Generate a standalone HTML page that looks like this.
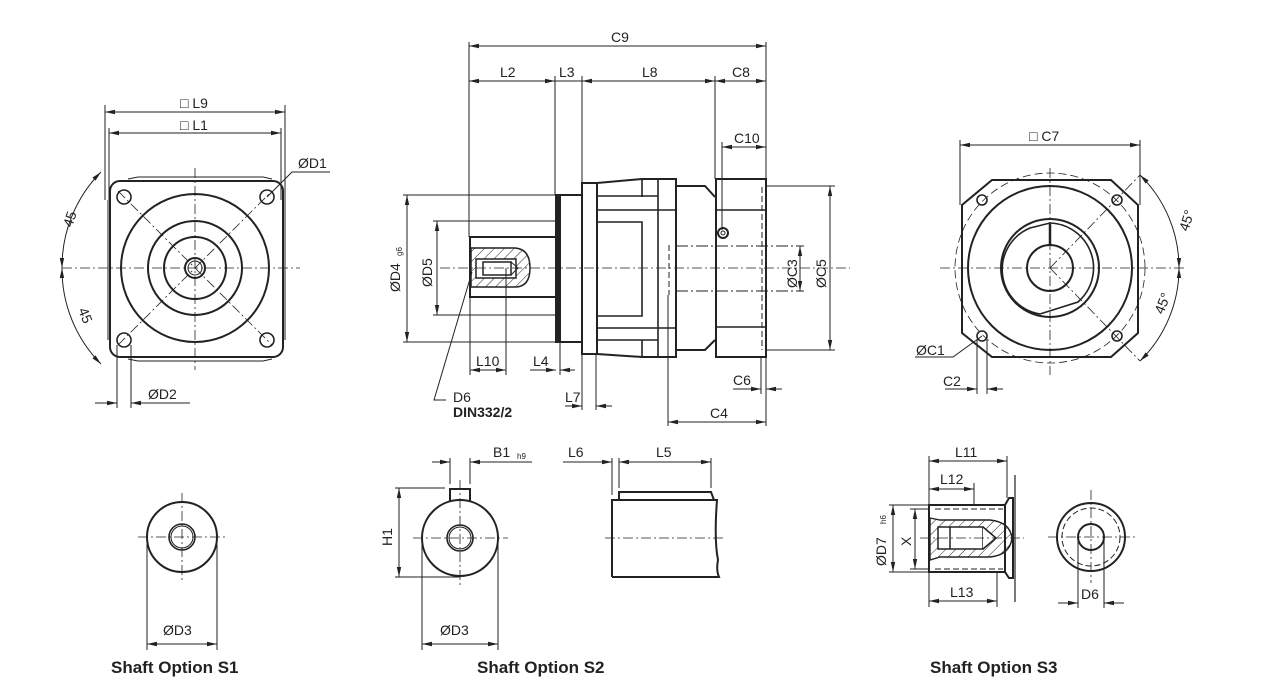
<!DOCTYPE html>
<html><head><meta charset="utf-8"><style>
html,body{margin:0;padding:0;background:#fff;}
svg{display:block;}
text{font-family:"Liberation Sans",Arial,sans-serif;fill:#222;}
</style></head><body>
<svg width="1278" height="691" viewBox="0 0 1278 691" xmlns="http://www.w3.org/2000/svg">
<defs>
<marker id="a" viewBox="0 0 10 6" refX="10" refY="3" markerWidth="10" markerHeight="6" orient="auto-start-reverse" markerUnits="userSpaceOnUse"><path d="M0,0.8 L10,3 L0,5.2 z" fill="#222"/></marker>
<pattern id="h" width="7" height="7" patternUnits="userSpaceOnUse" patternTransform="rotate(45)"><line x1="0" y1="0" x2="0" y2="7" stroke="#222" stroke-width="1"/></pattern>
</defs>
<g stroke="#222" fill="none" stroke-width="1">
<!-- LEFT VIEW -->
<g stroke-width="2">
<rect x="110" y="181" width="173" height="176" rx="10"/>
<circle cx="195" cy="268" r="74"/>
<circle cx="195" cy="268" r="47"/>
<circle cx="195" cy="268" r="31"/>
<circle cx="195" cy="268" r="10"/>
</g>
<circle cx="195" cy="268" r="7"/>
<path d="M128 179 L138 177 H263 L272 179 M128 359 L138 361 H263 L272 359" />
<path d="M108 200 V340 M285 200 V340" />
<g stroke-width="1.6"><circle cx="124" cy="197" r="7"/><circle cx="267" cy="197" r="7"/><circle cx="124" cy="340" r="7"/><circle cx="267" cy="340" r="7"/></g>
<g stroke-dasharray="10,3,2,3" stroke-width="0.8">
<line x1="62" y1="268" x2="300" y2="268"/><line x1="195" y1="168" x2="195" y2="370"/>
<line x1="118" y1="191" x2="272" y2="345"/><line x1="118" y1="345" x2="272" y2="191"/>
</g>
<line x1="105" y1="105" x2="105" y2="200"/><line x1="285" y1="105" x2="285" y2="200"/>
<line x1="109" y1="128" x2="109" y2="200"/><line x1="281" y1="128" x2="281" y2="200"/>
<line x1="105" y1="112" x2="285" y2="112" marker-start="url(#a)" marker-end="url(#a)"/>
<line x1="109" y1="133" x2="281" y2="133" marker-start="url(#a)" marker-end="url(#a)"/>
<path d="M267 197 L292 172 H330"/>
<path d="M101 172 A135 135 0 0 0 62 268" marker-start="url(#a)" marker-end="url(#a)"/>
<path d="M62 268 A135 135 0 0 0 101 364" marker-start="url(#a)" marker-end="url(#a)"/>
<line x1="117" y1="345" x2="117" y2="408"/><line x1="131" y1="345" x2="131" y2="408"/>
<line x1="95" y1="403" x2="117" y2="403" marker-end="url(#a)"/><line x1="155" y1="403" x2="131" y2="403" marker-end="url(#a)"/><line x1="131" y1="403" x2="190" y2="403"/>

<!-- MIDDLE VIEW -->
<g stroke-width="2">
<rect x="470" y="237" width="86" height="60"/>
<rect x="556" y="195" width="4" height="147" fill="#222"/>
<rect x="560" y="195" width="22" height="147"/>
<rect x="582" y="183" width="15" height="171"/>
<path d="M597 183 L642 179 H676 V357 H642 L597 354"/>
<path d="M676 186 H705 L715 197 M676 350 H705 L715 340"/>
<rect x="716" y="179" width="50" height="178"/>
</g>
<g stroke-width="1.6">
<path d="M597 196 H658 M597 210 H676 M597 222 H642 V316 H597 M597 328 H676 M597 340 H658 M642 179 V197 M658 179 V357 M642 340 V357"/>
<path d="M716 210 H766 M716 327 H766"/>
<line x1="597" y1="183" x2="597" y2="354"/>
</g>
<line x1="762" y1="187" x2="762" y2="350" stroke-dasharray="6,3"/>
<line x1="669" y1="245" x2="669" y2="295" stroke-dasharray="6,3"/>
<path d="M676 246 H800 M676 291 H800" stroke-dasharray="12,3,2,3"/>
<circle cx="723" cy="233" r="5" stroke-width="2"/><circle cx="723" cy="233" r="2"/>
<path d="M471 248 H515 Q530 249 530 268 Q530 287 515 287 H471 Z" fill="url(#h)" stroke-width="1.5"/>
<rect x="476" y="259" width="40" height="19" fill="#fff" stroke-width="1.5"/>
<rect x="483" y="262" width="28" height="13" fill="#fff" stroke-width="1.5"/>
<path d="M511 262 L518 268 L511 275"/>
<line x1="440" y1="268" x2="850" y2="268" stroke-dasharray="10,3,2,3" stroke-width="0.8"/>
<line x1="469" y1="42" x2="469" y2="237"/><line x1="766" y1="42" x2="766" y2="179"/>
<line x1="469" y1="46" x2="766" y2="46" marker-start="url(#a)" marker-end="url(#a)"/>
<line x1="555" y1="76" x2="555" y2="195"/><line x1="582" y1="76" x2="582" y2="183"/><line x1="715" y1="76" x2="715" y2="179"/>
<line x1="469" y1="81" x2="555" y2="81" marker-start="url(#a)" marker-end="url(#a)"/>
<line x1="555" y1="81" x2="582" y2="81"/>
<line x1="582" y1="81" x2="715" y2="81" marker-start="url(#a)" marker-end="url(#a)"/>
<line x1="715" y1="81" x2="766" y2="81" marker-start="url(#a)" marker-end="url(#a)"/>
<line x1="722" y1="142" x2="722" y2="230"/>
<line x1="722" y1="147" x2="766" y2="147" marker-start="url(#a)" marker-end="url(#a)"/>
<line x1="403" y1="195" x2="556" y2="195"/><line x1="403" y1="342" x2="556" y2="342"/>
<line x1="407" y1="195" x2="407" y2="342" marker-start="url(#a)" marker-end="url(#a)"/>
<line x1="433" y1="221" x2="556" y2="221"/><line x1="433" y1="315" x2="556" y2="315"/>
<line x1="437" y1="221" x2="437" y2="315" marker-start="url(#a)" marker-end="url(#a)"/>
<line x1="766" y1="186" x2="835" y2="186"/><line x1="766" y1="350" x2="835" y2="350"/>
<line x1="830" y1="186" x2="830" y2="350" marker-start="url(#a)" marker-end="url(#a)"/>
<line x1="800" y1="246" x2="804" y2="246"/><line x1="800" y1="291" x2="804" y2="291"/>
<line x1="800" y1="246" x2="800" y2="291" marker-start="url(#a)" marker-end="url(#a)"/>
<line x1="506" y1="268" x2="506" y2="375"/><line x1="470" y1="297" x2="470" y2="375"/>
<line x1="470" y1="370" x2="506" y2="370" marker-start="url(#a)" marker-end="url(#a)"/>
<line x1="560" y1="342" x2="560" y2="375"/>
<line x1="530" y1="370" x2="556" y2="370" marker-end="url(#a)"/><line x1="575" y1="370" x2="560" y2="370" marker-end="url(#a)"/>
<line x1="596" y1="354" x2="596" y2="410"/><line x1="582" y1="354" x2="582" y2="410"/>
<line x1="565" y1="406" x2="582" y2="406" marker-end="url(#a)"/><line x1="612" y1="406" x2="596" y2="406" marker-end="url(#a)"/>
<line x1="668" y1="295" x2="668" y2="426"/>
<line x1="766" y1="357" x2="766" y2="426"/><line x1="761" y1="357" x2="761" y2="394"/>
<line x1="668" y1="422" x2="766" y2="422" marker-start="url(#a)" marker-end="url(#a)"/>
<line x1="733" y1="389" x2="761" y2="389" marker-end="url(#a)"/><line x1="782" y1="389" x2="766" y2="389" marker-end="url(#a)"/>
<path d="M472 272 L434 400 H446"/>

<!-- RIGHT VIEW -->
<g stroke-width="2">
<path d="M992 180 H1111 L1138 205 V333 L1111 357 H992 L962 333 V205 Z"/>
<circle cx="1050" cy="268" r="82"/>
<circle cx="1050" cy="268" r="23"/>
<circle cx="1050" cy="268" r="49"/>
</g>
<path d="M1040 314 L1078 302 A45 45 0 0 0 1050 223 L1030 228 A45 45 0 0 0 1040 314" stroke-width="1.6"/>
<path d="M1050 224 V245" stroke-width="2.5"/>
<circle cx="1050" cy="268" r="95" stroke-dasharray="8,4" stroke-width="0.8"/>
<g stroke-width="1.6"><circle cx="982" cy="200" r="5"/><circle cx="1117" cy="200" r="5"/><circle cx="982" cy="336" r="5"/><circle cx="1117" cy="336" r="5"/></g>
<g stroke-dasharray="10,3,2,3" stroke-width="0.8">
<line x1="940" y1="268" x2="1185" y2="268"/><line x1="1050" y1="168" x2="1050" y2="375"/>
<line x1="1050" y1="268" x2="1140" y2="175"/><line x1="1050" y1="268" x2="1140" y2="361"/>
</g>
<line x1="960" y1="140" x2="960" y2="205"/><line x1="1140" y1="140" x2="1140" y2="205"/>
<line x1="960" y1="145" x2="1140" y2="145" marker-start="url(#a)" marker-end="url(#a)"/>
<path d="M1140 175 A130 130 0 0 1 1179 268" marker-start="url(#a)" marker-end="url(#a)"/>
<path d="M1179 268 A130 130 0 0 1 1140 361" marker-start="url(#a)" marker-end="url(#a)"/>
<path d="M982 336 L953 357 H915"/>
<line x1="977" y1="340" x2="977" y2="394"/><line x1="987" y1="340" x2="987" y2="394"/>
<line x1="945" y1="389" x2="977" y2="389" marker-end="url(#a)"/><line x1="1003" y1="389" x2="987" y2="389" marker-end="url(#a)"/>

<!-- S1 -->
<circle cx="182" cy="537" r="35" stroke-width="2"/>
<circle cx="182" cy="537" r="13" stroke-width="1.6"/><circle cx="182" cy="537" r="11"/>
<g stroke-dasharray="10,3,2,3" stroke-width="0.8"><line x1="138" y1="537" x2="228" y2="537"/><line x1="182" y1="493" x2="182" y2="582"/></g>
<line x1="147" y1="537" x2="147" y2="650"/><line x1="217" y1="537" x2="217" y2="650"/>
<line x1="147" y1="644" x2="217" y2="644" marker-start="url(#a)" marker-end="url(#a)"/>

<!-- S2 -->
<circle cx="460" cy="538" r="38" stroke-width="2"/>
<circle cx="460" cy="538" r="13" stroke-width="1.6"/><circle cx="460" cy="538" r="11"/>
<path d="M450 501 V489 H470 V501" stroke-width="2"/>
<g stroke-dasharray="10,3,2,3" stroke-width="0.8"><line x1="413" y1="538" x2="508" y2="538"/><line x1="460" y1="480" x2="460" y2="585"/></g>
<line x1="450" y1="458" x2="450" y2="484"/><line x1="470" y1="458" x2="470" y2="484"/>
<line x1="432" y1="462" x2="450" y2="462" marker-end="url(#a)"/><line x1="532" y1="462" x2="470" y2="462" marker-end="url(#a)"/>
<line x1="395" y1="488" x2="445" y2="488"/><line x1="395" y1="577" x2="460" y2="577"/>
<line x1="399" y1="488" x2="399" y2="577" marker-start="url(#a)" marker-end="url(#a)"/>
<line x1="422" y1="538" x2="422" y2="650"/><line x1="498" y1="538" x2="498" y2="650"/>
<line x1="422" y1="644" x2="498" y2="644" marker-start="url(#a)" marker-end="url(#a)"/>
<path d="M612 577 V500 H717 Q714 540 718 560 Q716 570 719 577 H612" stroke-width="2"/>
<path d="M619 500 V492 H711 L714 500" stroke-width="2"/>
<line x1="605" y1="538" x2="725" y2="538" stroke-dasharray="10,3,2,3" stroke-width="0.8"/>
<line x1="612" y1="458" x2="612" y2="495"/><line x1="619" y1="458" x2="619" y2="488"/><line x1="711" y1="458" x2="711" y2="488"/>
<line x1="563" y1="462" x2="612" y2="462" marker-end="url(#a)"/>
<line x1="619" y1="462" x2="711" y2="462" marker-start="url(#a)" marker-end="url(#a)"/>

<!-- S3 -->
<g stroke-width="2">
<path d="M929 505 H1005 V572 H929 Z"/>
<path d="M1005 505 L1009 498 H1013 V578 H1009 L1005 572"/>
</g>
<line x1="1015" y1="475" x2="1015" y2="602" stroke-width="1.2"/>
<path d="M930 518 L940 520 H990 Q1010 522 1012 538 Q1010 555 990 557 H940 L930 560 Z" fill="url(#h)" stroke-width="1.4"/>
<rect x="938" y="527" width="45" height="22" fill="#fff" stroke-width="1.5"/>
<line x1="950" y1="527" x2="950" y2="549" stroke-width="1.5"/>
<path d="M983 527 L996 538 L983 549" fill="#fff" stroke-width="1.5"/>
<path d="M935 509 H1003 M935 569 H1003" stroke-dasharray="6,3"/>
<line x1="920" y1="538" x2="1024" y2="538" stroke-dasharray="10,3,2,3" stroke-width="0.8"/>
<line x1="929" y1="456" x2="929" y2="607"/><line x1="1007" y1="456" x2="1007" y2="498"/><line x1="974" y1="483" x2="974" y2="505"/><line x1="997" y1="572" x2="997" y2="607"/>
<line x1="929" y1="461" x2="1007" y2="461" marker-start="url(#a)" marker-end="url(#a)"/>
<line x1="929" y1="489" x2="974" y2="489" marker-start="url(#a)" marker-end="url(#a)"/>
<line x1="929" y1="601" x2="997" y2="601" marker-start="url(#a)" marker-end="url(#a)"/>
<line x1="889" y1="505" x2="929" y2="505"/><line x1="889" y1="572" x2="929" y2="572"/>
<line x1="893" y1="505" x2="893" y2="572" marker-start="url(#a)" marker-end="url(#a)"/>
<line x1="910" y1="509" x2="930" y2="509"/><line x1="910" y1="569" x2="930" y2="569"/>
<line x1="915" y1="509" x2="915" y2="569" marker-start="url(#a)" marker-end="url(#a)"/>
<circle cx="1091" cy="537" r="34" stroke-width="2"/>
<circle cx="1091" cy="537" r="29" stroke-dasharray="6,3"/>
<circle cx="1091" cy="537" r="13" stroke-width="2"/>
<g stroke-dasharray="10,3,2,3" stroke-width="0.8"><line x1="1048" y1="537" x2="1135" y2="537"/><line x1="1091" y1="490" x2="1091" y2="583"/></g>
<line x1="1078" y1="537" x2="1078" y2="608"/><line x1="1104" y1="537" x2="1104" y2="608"/>
<line x1="1058" y1="603" x2="1078" y2="603" marker-end="url(#a)"/><line x1="1124" y1="603" x2="1104" y2="603" marker-end="url(#a)"/>
</g>

<g font-size="14">
<text x="180" y="108">□ L9</text>
<text x="180" y="130">□ L1</text>
<text x="298" y="168">ØD1</text>
<text x="148" y="399">ØD2</text>
<text x="72" y="228" transform="rotate(-72 72 228)">45</text>
<text x="78" y="310" transform="rotate(68 78 310)">45</text>
<text x="611" y="42">C9</text>
<text x="500" y="77">L2</text>
<text x="559" y="77">L3</text>
<text x="642" y="77">L8</text>
<text x="732" y="77">C8</text>
<text x="734" y="143">C10</text>
<text x="400" y="292" transform="rotate(-90 400 292)">ØD4</text>
<text x="402" y="256" font-size="8" transform="rotate(-90 402 256)">g6</text>
<text x="432" y="287" transform="rotate(-90 432 287)">ØD5</text>
<text x="797" y="288" transform="rotate(-90 797 288)">ØC3</text>
<text x="826" y="288" transform="rotate(-90 826 288)">ØC5</text>
<text x="476" y="366">L10</text>
<text x="533" y="366">L4</text>
<text x="565" y="402">L7</text>
<text x="733" y="385">C6</text>
<text x="710" y="418">C4</text>
<text x="453" y="402">D6</text>
<text x="453" y="417" font-weight="bold">DIN332/2</text>
<text x="1029" y="141">□ C7</text>
<text x="1188" y="232" transform="rotate(-72 1188 232)">45°</text>
<text x="1163" y="315" transform="rotate(-68 1163 315)">45°</text>
<text x="916" y="355">ØC1</text>
<text x="943" y="386">C2</text>
<text x="163" y="635">ØD3</text>
<text x="493" y="457">B1</text>
<text x="517" y="459" font-size="8">h9</text>
<text x="568" y="457">L6</text>
<text x="656" y="457">L5</text>
<text x="392" y="546" transform="rotate(-90 392 546)">H1</text>
<text x="440" y="635">ØD3</text>
<text x="955" y="457">L11</text>
<text x="940" y="484">L12</text>
<text x="950" y="597">L13</text>
<text x="886" y="566" transform="rotate(-90 886 566)">ØD7</text>
<text x="886" y="524" font-size="8" transform="rotate(-90 886 524)">h6</text>
<text x="911" y="546" transform="rotate(-90 911 546)">X</text>
<text x="1081" y="599">D6</text>
</g>
<g font-size="17" font-weight="bold">
<text x="111" y="673">Shaft Option S1</text>
<text x="477" y="673">Shaft Option S2</text>
<text x="930" y="673">Shaft Option S3</text>
</g>
</svg>
</body></html>
